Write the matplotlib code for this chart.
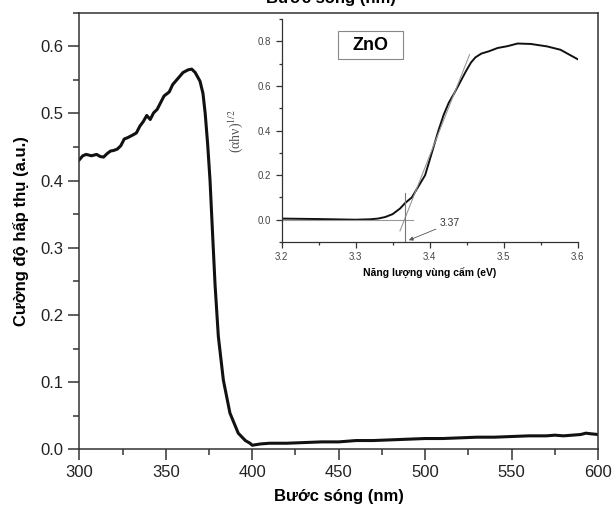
#!/usr/bin/env python3

# UV-Vis absorption of ZnO with the Tauc plot (band gap) as an inset.

import matplotlib
matplotlib.use('Agg')
from matplotlib import pyplot as plt
from matplotlib.patches import Rectangle
from matplotlib.ticker import MultipleLocator

plt.rcParams['font.family'] = ['Liberation Sans', 'DejaVu Sans']
plt.rcParams['mathtext.fontset'] = 'stix'

# absorption spectrum
wavelength = [300, 302, 304, 307, 310, 312, 314, 316, 318, 320, 322, 324, 326, 328,
              331, 333, 335, 337, 339, 341, 343, 345, 347, 349, 352, 354, 356, 358,
              360, 363, 365, 367, 369.8, 371.5, 372.8, 374.2, 375.6, 376.8, 378.5,
              380.4, 383.3, 387.1, 391.9, 396, 398.7, 400, 405, 410, 420, 430, 440,
              450, 460, 470, 480, 490, 500, 510, 520, 530, 540, 550, 560, 570, 575,
              580, 585, 590, 593, 596, 600]
absorbance = [0.431, 0.437, 0.439, 0.437, 0.439, 0.436, 0.435, 0.440, 0.444, 0.445,
              0.447, 0.452, 0.462, 0.464, 0.468, 0.471, 0.481, 0.488, 0.497, 0.491,
              0.501, 0.506, 0.516, 0.526, 0.532, 0.543, 0.549, 0.555, 0.561, 0.565,
              0.566, 0.561, 0.548, 0.530, 0.500, 0.455, 0.400, 0.335, 0.245, 0.168,
              0.103, 0.054, 0.024, 0.013, 0.009, 0.006, 0.008, 0.009, 0.009, 0.010,
              0.011, 0.011, 0.013, 0.013, 0.014, 0.015, 0.016, 0.016, 0.017, 0.018,
              0.018, 0.019, 0.020, 0.020, 0.021, 0.020, 0.021, 0.022, 0.024, 0.023,
              0.022]

# Tauc plot
energy = [3.20, 3.25, 3.30, 3.32, 3.33, 3.34, 3.35, 3.36, 3.367, 3.376, 3.385, 3.394,
          3.403, 3.412, 3.419, 3.426, 3.433, 3.441, 3.449, 3.456, 3.462, 3.47, 3.48,
          3.492, 3.505, 3.519, 3.537, 3.559, 3.577, 3.60]
tauc = [0.005, 0.003, 0.0, 0.002, 0.005, 0.012, 0.025, 0.05, 0.075, 0.10, 0.15, 0.20,
        0.30, 0.40, 0.47, 0.525, 0.565, 0.615, 0.665, 0.705, 0.728, 0.745, 0.755,
        0.770, 0.778, 0.790, 0.788, 0.777, 0.762, 0.720]

# linear fit lines and band gap marker
tangent_x = [3.360, 3.454]
tangent_y = [-0.05, 0.74]
baseline_x = [3.2, 3.378]
baseline_y = [0.0, 0.0]
band_gap = 3.37
gap_x = 3.367
gap_y = [-0.1, 0.12]

AXIS = '#333333'

fig = plt.figure(figsize=(6.13, 5.08), dpi=100)
ax = fig.add_axes([0.1294, 0.1156, 0.8462, 0.8594])
ax.plot(wavelength, absorbance, color='#111111', lw=2.2)
ax.set_xlim(300, 600)
ax.set_ylim(0, 0.65)
ax.xaxis.set_major_locator(MultipleLocator(50))
ax.xaxis.set_minor_locator(MultipleLocator(25))
ax.yaxis.set_major_locator(MultipleLocator(0.1))
ax.yaxis.set_minor_locator(MultipleLocator(0.05))
ax.set_yticks([0.0, 0.1, 0.2, 0.3, 0.4, 0.5, 0.6])
ax.tick_params(which='major', direction='out', length=8, width=1.1, labelsize=12,
               color=AXIS, labelcolor='#222222')
ax.tick_params(which='minor', direction='out', length=4, width=1.1, color=AXIS)
for s in ax.spines.values():
    s.set_color(AXIS)
    s.set_linewidth(1.1)
ax.set_xlabel('Bước sóng (nm)', fontsize=12, fontweight='bold', labelpad=6)
ax.set_ylabel('Cường độ hấp thụ (a.u.)', fontsize=12, fontweight='bold', labelpad=8)

# top label left from the original double axis, mostly cut off
fig.text(0.54, 0.994, 'Bước sóng (nm)', fontsize=12, fontweight='bold',
         ha='center', va='baseline')

# inset
axi = fig.add_axes([0.4595, 0.5236, 0.4826, 0.439])
axi.patch.set_alpha(0)
axi.plot(energy, tauc, color='#111111', lw=1.4)
axi.plot(tangent_x, tangent_y, color='#999999', lw=0.8)
axi.plot(baseline_x, baseline_y, color='#999999', lw=0.8)
axi.plot([gap_x, gap_x], gap_y, color='#777777', lw=0.8)
axi.annotate(f'{band_gap:.2f}', xy=(3.372, -0.092), xytext=(3.414, -0.016),
             fontsize=7.5, color='#333333', va='center',
             arrowprops=dict(arrowstyle='-|>', color='#555555', lw=0.6,
                             mutation_scale=6, shrinkA=1, shrinkB=0))
axi.set_xlim(3.2, 3.6)
axi.set_ylim(-0.1, 0.9)
axi.xaxis.set_major_locator(MultipleLocator(0.1))
axi.xaxis.set_minor_locator(MultipleLocator(0.05))
axi.set_yticks([0.0, 0.2, 0.4, 0.6, 0.8])
axi.yaxis.set_minor_locator(MultipleLocator(0.1))
axi.tick_params(which='major', direction='out', length=4, width=0.9, labelsize=7,
                color=AXIS, labelcolor='#444444')
axi.tick_params(which='minor', direction='out', length=2, width=0.9, color=AXIS)
for side in ['top', 'right']:
    axi.spines[side].set_visible(False)
for side in ['left', 'bottom']:
    axi.spines[side].set_color(AXIS)
    axi.spines[side].set_linewidth(0.9)
axi.set_xlabel('Năng lượng vùng cấm (eV)', fontsize=7.5, fontweight='bold',
               labelpad=4)
axi.set_ylabel('(αhν)$^{1/2}$', fontsize=10, color='#555555', labelpad=9,
               family=['Liberation Serif', 'DejaVu Serif'])

axi.add_patch(Rectangle((0.191, 0.819), 0.22, 0.129, transform=axi.transAxes,
                        facecolor='white', edgecolor='#888888', lw=0.8))
axi.text(0.301, 0.883, 'ZnO', transform=axi.transAxes, fontsize=13,
         fontweight='bold', ha='center', va='center')

fig.savefig('out.png', dpi=100)
